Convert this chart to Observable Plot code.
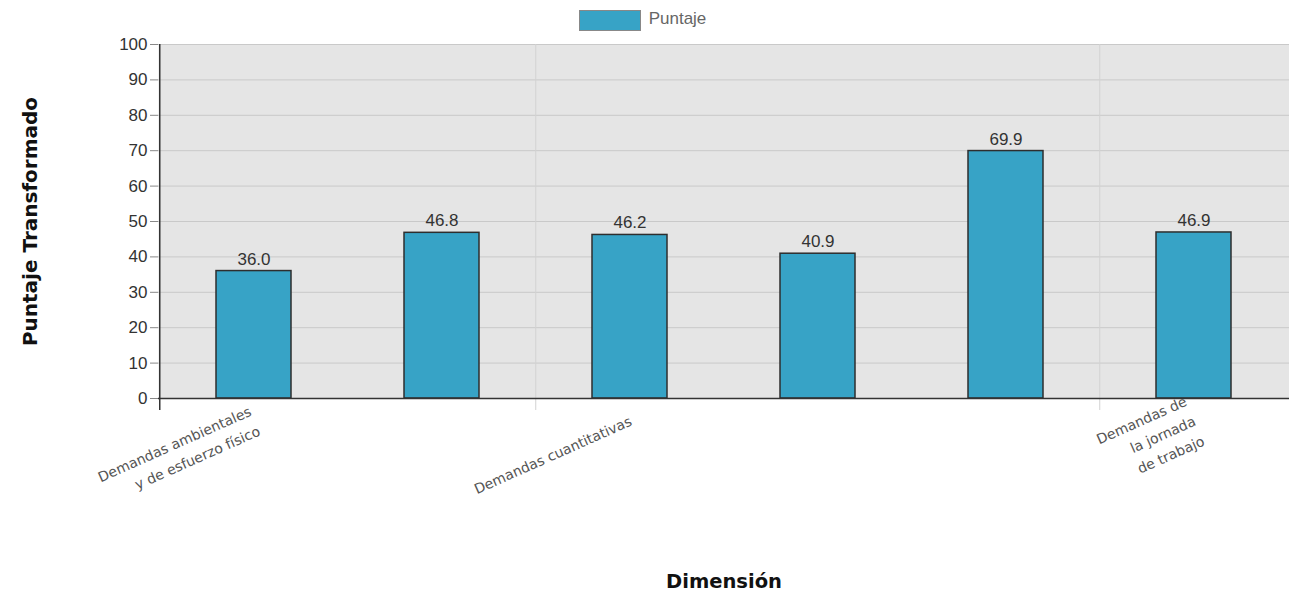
<!DOCTYPE html>
<html>
<head>
<meta charset="utf-8">
<script src="https://cdn.jsdelivr.net/npm/d3@7"></script>
<script src="https://cdn.jsdelivr.net/npm/@observablehq/plot@0.6"></script>
<style>
  html, body { margin: 0; padding: 0; background: #fff; }
  #wrap { position: relative; width: 1289px; height: 595px; }
  #legend { position: absolute; top: 10px; left: 0; right: 0; display: flex; justify-content: center; align-items: center;
            font-family: "Liberation Sans", Arial, sans-serif; font-size: 17px; color: #666; transform: translateX(-2px); }
  #legend .sw { width: 60px; height: 19px; background: #37a3c6; border: 1px solid #888; margin-right: 8px; }
  #legend span { position: relative; top: -2px; }
  svg { display: block; }
</style>
</head>
<body>
<div id="wrap">
  <div id="chart"></div>
  <div id="legend"><div class="sw"></div><span>Puntaje</span></div>
</div>
<script>
const categories = [
  "Demandas ambientales y de esfuerzo físico",
  "Demandas emocionales",
  "Demandas cuantitativas",
  "Influencias del trabajo sobre el entorno extralaboral",
  "Demandas de carga mental",
  "Demandas de la jornada de trabajo"
];
const values = [36.0, 46.8, 46.2, 40.9, 69.9, 46.9];
const tickLabels = [
  "Demandas ambientales\ny de esfuerzo físico",
  "",
  "Demandas cuantitativas",
  "",
  "",
  "Demandas de\nla jornada\nde trabajo"
];
const yTicks = [0, 10, 20, 30, 40, 50, 60, 70, 80, 90, 100];
const seriesName = "Puntaje";

const rows = categories.map((c, i) => ({cat: c, value: values[i]}));
const labelled = categories.filter((c, i) => tickLabels[i] !== "");

const W = 1289, H = 595, mL = 158, mR = 0, mT = 44, mB = 197;
const step = (W - mL - mR) / categories.length;

const chart = Plot.plot({
  width: W, height: H,
  marginLeft: mL, marginRight: mR, marginTop: mT, marginBottom: mB,
  style: {background: "transparent", overflow: "visible"},
  x: {domain: categories, paddingInner: 0.6, paddingOuter: 0.3, label: null},
  y: {domain: [0, 100], label: null},
  marks: [
    Plot.frame({fill: "#e5e5e5", stroke: null}),
    Plot.gridY(yTicks, {stroke: "#c9c9c9", strokeOpacity: 1}),
    Plot.ruleX(labelled.slice(1), {x: d => d, dx: -step / 2, y1: 100, y2: 0, insetBottom: -12, stroke: "#d2d2d2"}),
    Plot.barY(rows, {x: "cat", y: "value", fill: "#37a3c6", stroke: "#2e2e2e", strokeWidth: 1.5}),
    Plot.ruleY([0], {stroke: "#333", strokeWidth: 1.5}),
    Plot.ruleX(labelled.slice(0, 1), {x: d => d, dx: -step / 2, y1: 100, y2: 0, insetBottom: -12, stroke: "#333", strokeWidth: 1.5}),
    Plot.text(rows, {x: "cat", y: "value", text: d => d.value.toFixed(1), dy: -12,
      fontSize: 17, fill: "#333", fontFamily: "Liberation Sans, Arial, sans-serif"}),
    Plot.axisY({ticks: yTicks, tickSize: 8, tickPadding: 3, fontSize: 17, label: null,
      stroke: "#888", fill: "#333", fontFamily: "Liberation Sans, Arial, sans-serif"}),
    Plot.axisX({tickFormat: d => tickLabels[categories.indexOf(d)], tickRotate: -24, tickSize: 0, tickPadding: 20,
      fontSize: 14, lineHeight: 1.55, fill: "#555", fontFamily: "DejaVu Sans, Verdana, sans-serif", label: null}),
    Plot.text(["Puntaje Transformado"], {frameAnchor: "left", textAnchor: "middle", dx: -128, rotate: -90, fontSize: 20,
      fontWeight: "bold", fill: "#111", fontFamily: "DejaVu Sans, Verdana, sans-serif"}),
    Plot.text(["Dimensión"], {frameAnchor: "bottom", dy: 189, fontSize: 19.5,
      fontWeight: "bold", fill: "#111", fontFamily: "DejaVu Sans, Verdana, sans-serif"})
  ]
});
document.getElementById("chart").appendChild(chart);
</script>
</body>
</html>
